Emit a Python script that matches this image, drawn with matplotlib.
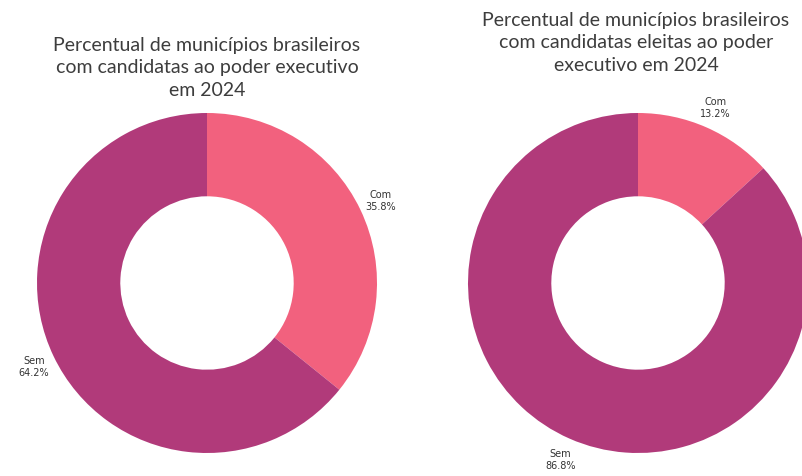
import matplotlib.pyplot as plt

# municípios com/sem candidatas mulheres ao executivo (2024)
categorias = ['Com', 'Sem']
candidatas = [35.8, 64.2]
eleitas = [13.2, 86.8]

CORES = ['#F2617E', '#B13A7A']

titulo_candidatas = 'Percentual de municípios brasileiros\ncom candidatas ao poder executivo\nem 2024'
titulo_eleitas = 'Percentual de municípios brasileiros\ncom candidatas eleitas ao poder\nexecutivo em 2024'


def desenhaRosca(ax, valores):
    labels = ['{}\n{}%'.format(c, v) for c, v in zip(categorias, valores)]
    ax.pie(valores, labels=labels, colors=CORES, startangle=90, counterclock=False,
           labeldistance=1.13,
           wedgeprops=dict(width=0.49, linewidth=0),
           textprops=dict(ha='center', va='center', multialignment='center',
                          fontsize=7, color='#333333', family='DejaVu Sans'))
    ax.set_xlim(-1, 1)
    ax.set_ylim(-1, 1)
    ax.set_aspect('equal')


fig = plt.figure(figsize=(8.03, 4.77), dpi=100)

ax1 = fig.add_axes([37 / 803, 23 / 477, 340 / 803, 340 / 477])
desenhaRosca(ax1, candidatas)

ax2 = fig.add_axes([468 / 803, 23 / 477, 340 / 803, 340 / 477])
desenhaRosca(ax2, eleitas)

fig.text(207 / 803, 1 - 37 / 477, titulo_candidatas, ha='center', va='top',
         fontsize=14, family='Lato', color='#3d3d3d', linespacing=1.38)
fig.text(636 / 803, 1 - 12 / 477, titulo_eleitas, ha='center', va='top',
         fontsize=14, family='Lato', color='#3d3d3d', linespacing=1.38)

fig.savefig('out.png', dpi=100)
